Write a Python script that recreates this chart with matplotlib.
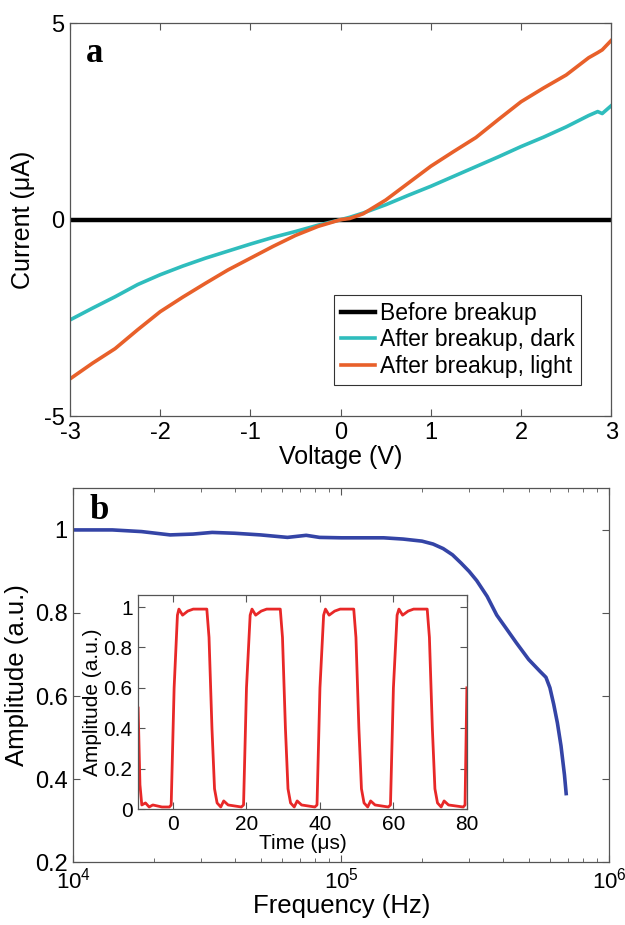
import numpy as np
import matplotlib
matplotlib.use("Agg")
import matplotlib.pyplot as plt
from matplotlib.ticker import LogLocator, NullFormatter

plt.rcParams['font.family'] = ['Liberation Sans', 'DejaVu Sans']
plt.rcParams['axes.unicode_minus'] = False

# panel a: I-V curves
voltage = [-3.0, -2.75, -2.5, -2.25, -2.0, -1.75, -1.5, -1.25, -1.0, -0.75, -0.5, -0.25, 0.0,
           0.1, 0.25, 0.5, 0.75, 1.0, 1.25, 1.5, 1.75, 2.0, 2.25, 2.5, 2.75, 2.85, 2.9, 3.0]
i_before = [0.0] * len(voltage)
i_dark = [-2.55, -2.25, -1.96, -1.65, -1.40, -1.18, -0.98, -0.80, -0.62, -0.45, -0.30, -0.14, 0.0,
          0.06, 0.17, 0.38, 0.62, 0.85, 1.10, 1.35, 1.60, 1.86, 2.10, 2.36, 2.65, 2.75, 2.70, 2.90]
i_light = [-4.05, -3.65, -3.28, -2.80, -2.34, -1.97, -1.62, -1.28, -0.98, -0.68, -0.40, -0.17, 0.0,
           0.03, 0.15, 0.50, 0.93, 1.36, 1.73, 2.09, 2.55, 3.00, 3.35, 3.68, 4.12, 4.25, 4.32, 4.56]

# panel b: frequency response
freq = [1.0e4, 1.4e4, 1.8e4, 2.3e4, 2.8e4, 3.3e4, 4.0e4, 5.0e4, 6.3e4, 7.4e4, 8.3e4, 1.0e5,
        1.44e5, 1.7e5, 2.0e5, 2.2e5, 2.4e5, 2.6e5, 2.8e5, 3.0e5, 3.2e5, 3.5e5, 3.8e5, 4.1e5,
        4.5e5, 5.0e5, 5.5e5, 5.8e5, 6.0e5, 6.2e5, 6.4e5, 6.6e5, 6.8e5, 6.9e5]
amp = [1.0, 1.0, 0.996, 0.988, 0.99, 0.994, 0.992, 0.988, 0.982, 0.987, 0.982, 0.981,
       0.981, 0.978, 0.973, 0.966, 0.955, 0.94, 0.92, 0.90, 0.878, 0.84, 0.795, 0.765,
       0.728, 0.688, 0.66, 0.645, 0.62, 0.58, 0.535, 0.48, 0.41, 0.365]

# inset: pulse response
t_us = [-9.5, -9.0, -8.5, -7.5, -6.5, -5.5, -3.0, -1.0,
        -0.5, 0.3, 1.2, 1.6, 2.6, 4.0, 5.5, 9.2, 9.8, 10.6, 11.3, 12.0, 13.0, 13.8, 15.0, 18.6,
        19.2, 20.0, 21.0, 21.5, 22.5, 24.0, 25.5, 29.2, 29.8, 30.6, 31.3, 32.0, 33.0, 33.8, 35.0, 38.6,
        39.2, 40.0, 41.0, 41.5, 42.5, 44.0, 45.5, 49.2, 49.8, 50.6, 51.3, 52.0, 53.0, 53.8, 55.0, 58.6,
        59.2, 60.0, 61.0, 61.5, 62.5, 64.0, 65.5, 69.2, 69.8, 70.6, 71.3, 72.0, 73.0, 73.8, 75.0, 79.0,
        79.5, 80.0]
a_pulse = [0.50, 0.12, 0.02, 0.03, 0.01, 0.02, 0.01, 0.01,
           0.02, 0.60, 0.96, 0.99, 0.96, 0.98, 0.99, 0.99, 0.85, 0.40, 0.10, 0.03, 0.01, 0.04, 0.02, 0.01,
           0.02, 0.60, 0.96, 0.99, 0.96, 0.98, 0.99, 0.99, 0.85, 0.40, 0.10, 0.03, 0.01, 0.04, 0.02, 0.01,
           0.02, 0.60, 0.96, 0.99, 0.96, 0.98, 0.99, 0.99, 0.85, 0.40, 0.10, 0.03, 0.01, 0.04, 0.02, 0.01,
           0.02, 0.60, 0.96, 0.99, 0.96, 0.98, 0.99, 0.99, 0.85, 0.40, 0.10, 0.03, 0.01, 0.04, 0.02, 0.01,
           0.02, 0.60]

frame_col = '#555555'

fig = plt.figure(figsize=(6.25, 9.25), dpi=100)

# ---- panel a ----
ax1 = fig.add_axes([0.112, 0.550, 0.866, 0.425])
ax1.plot(voltage, i_before, color='black', lw=3.2, label='Before breakup')
ax1.plot(voltage, i_dark, color='#2fbdbd', lw=2.6, label='After breakup, dark')
ax1.plot(voltage, i_light, color='#e8602a', lw=2.6, label='After breakup, light')
ax1.set_xlim(-3, 3)
ax1.set_ylim(-5, 5)
ax1.set_xticks([-3, -2, -1, 0, 1, 2, 3])
ax1.set_yticks([-5, 0, 5])
ax1.set_xlabel('Voltage (V)', fontsize=18, labelpad=1)
ax1.set_ylabel('Current (\u03bcA)', fontsize=18, labelpad=6)
leg = ax1.legend(loc='lower right', bbox_to_anchor=(0.945, 0.08), fontsize=16.5,
                 frameon=True, fancybox=False, edgecolor='black', handlelength=1.5,
                 handletextpad=0.2, borderpad=0.3, labelspacing=0.15, borderaxespad=0)
leg.get_frame().set_linewidth(0.8)
ax1.text(0.03, 0.965, 'a', transform=ax1.transAxes, fontsize=25, fontweight='bold',
         family='Liberation Serif', va='top', ha='left')

# ---- panel b ----
ax2 = fig.add_axes([0.117, 0.068, 0.858, 0.404])
ax2.plot(freq, amp, color='#3444a6', lw=2.6)
ax2.set_xscale('log')
ax2.set_xlim(1e4, 1e6)
ax2.set_ylim(0.2, 1.1)
ax2.set_yticks([0.2, 0.4, 0.6, 0.8, 1.0])
ax2.set_yticklabels(['0.2', '0.4', '0.6', '0.8', '1'])
ax2.xaxis.set_minor_locator(LogLocator(base=10, subs=np.arange(2, 10), numticks=20))
ax2.xaxis.set_minor_formatter(NullFormatter())
ax2.set_xlabel('Frequency (Hz)', fontsize=18.5, labelpad=0)
ax2.set_ylabel('Amplitude (a.u.)', fontsize=18.5, labelpad=4)
ax2.text(0.03, 0.985, 'b', transform=ax2.transAxes, fontsize=25, fontweight='bold',
         family='Liberation Serif', va='top', ha='left')

# ---- inset ----
ax3 = fig.add_axes([0.221, 0.1254, 0.526, 0.2314])
ax3.plot(t_us, a_pulse, color='#e82828', lw=2.0)
ax3.set_xlim(-9.5, 80)
ax3.set_ylim(0, 1.06)
ax3.set_xticks([0, 20, 40, 60, 80])
ax3.set_yticks([0, 0.2, 0.4, 0.6, 0.8, 1.0])
ax3.set_yticklabels(['0', '0.2', '0.4', '0.6', '0.8', '1'])
ax3.set_xlabel('Time (\u03bcs)', fontsize=15, labelpad=0)
ax3.set_ylabel('Amplitude (a.u.)', fontsize=15, labelpad=1)

for ax, fs in [(ax1, 17), (ax2, 17), (ax3, 15)]:
    ax.tick_params(which='both', direction='in', top=True, right=True,
                   labelsize=fs, color=frame_col, pad=4)
    ax.tick_params(which='major', length=5)
    ax.tick_params(which='minor', length=3)
    for s in ax.spines.values():
        s.set_color(frame_col)
        s.set_linewidth(0.9)
ax2.tick_params(axis='x', labelsize=16)

fig.savefig('out.png', dpi=100)
